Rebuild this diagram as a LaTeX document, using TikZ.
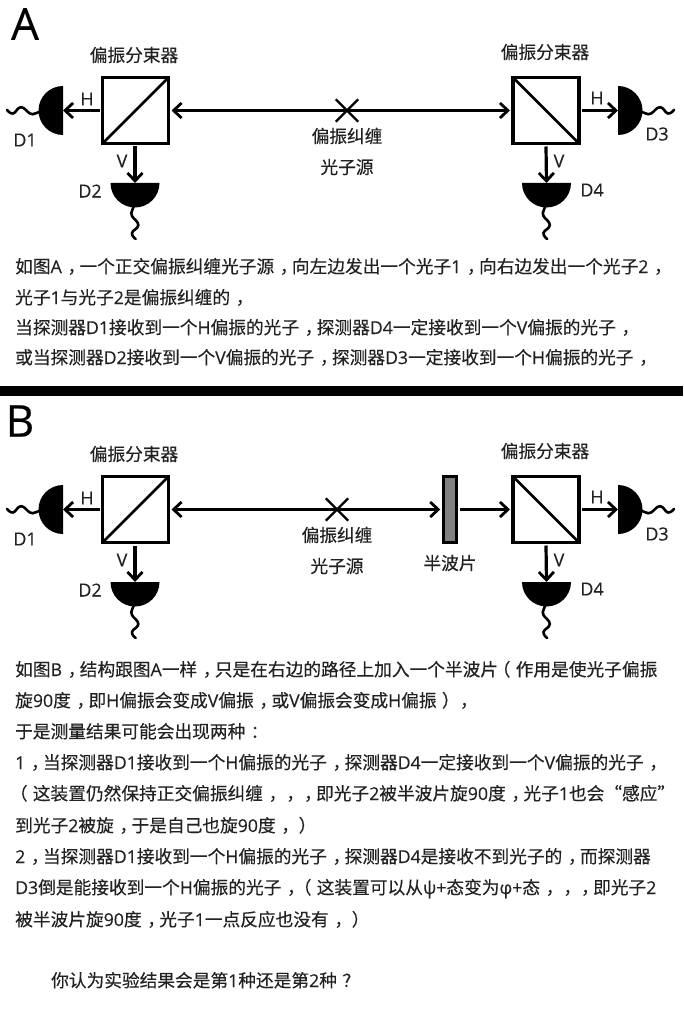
\documentclass[tikz,border=0pt]{standalone}
\usepackage{fontspec}
\usetikzlibrary{arrows.meta,shapes.misc}
\newfontfamily\cjk[RawFeature={embolden=0.35}]{Noto Sans CJK SC}
\newfontfamily\latf[RawFeature={embolden=0.35}]{Open Sans}
\newcommand\lat[1]{{\latf #1}}
\newcommand\cmm{\makebox[1em][l]{\hspace{.32em}，}}
\newcommand\lpr{\makebox[1em][l]{\hspace{-.3em}（}}
\newcommand\rpr{\makebox[1em][l]{\hspace{.3em}）}}
\newcommand\clnm{\makebox[1em][l]{\hspace{.3em}：}}
\newcommand\qnm{\makebox[1em][l]{\hspace{.3em}？}}
\definecolor{ink}{HTML}{222222}
\tikzset{
  x=1pt,y=-1pt,
  barb/.tip={Straight Barb[length=8pt,width=15pt,line width=2.8pt]},
  beam/.style={line width=3.2pt},
  tipend/.style={-barb},
  tipboth/.style={barb-barb},
  bsbox/.style={draw,line width=3.2pt,minimum size=66pt,inner sep=0pt,outer sep=3pt},
  bsup/.style={bsbox,path picture={\draw[line width=2.8pt] (path picture bounding box.south west) -- (path picture bounding box.north east);}},
  bsdown/.style={bsbox,path picture={\draw[line width=2.8pt] (path picture bounding box.north west) -- (path picture bounding box.south east);}},
  plate/.style={draw,fill=black!50,line width=2.8pt,minimum width=13.5pt,minimum height=66pt,inner sep=0pt,outer sep=3pt},
  source/.style={draw,cross out,line width=2.4pt,minimum size=20pt,inner sep=0pt},
  cn/.style={font=\cjk\fontsize{17.7}{20}\selectfont,text=ink,inner sep=0pt},
  la/.style={font=\latf\fontsize{18}{20}\selectfont,text=ink,inner sep=0pt},
  big/.style={font=\latf\fontsize{44}{46}\selectfont,text=black,inner sep=0pt},
  bodyline/.style={font=\cjk\fontsize{17.7}{20}\selectfont,text=ink,inner sep=0pt,anchor=base west},
  pics/det/.style={code={
    \fill (0,-24.5) .. controls (13.5,-24.5) and (24.5,-13.5) .. (24.5,0) .. controls (24.5,13.5) and (13.5,24.5) .. (0,24.5) -- cycle;
    \draw[line width=2.6pt,line cap=round] plot[smooth,tension=.8] coordinates {(23,1) (28,3) (33,3) (42,-3.3) (50,3) (56,-.7)};
  }},
}
\begin{document}
\begin{tikzpicture}
\useasboundingbox (0,0) rectangle (683,1024);
% ---------- A
\node[big] (labA) at (25,24) {A};
\node[bsup] (bsAL) at (135.5,110.5) {};
\node[bsdown] (bsAR) at (546,110.5) {};
\node[source] (srcA) at (347,110.5) {};
\coordinate (d1A) at (63,110.5);
\coordinate (d2A) at (135,183);
\coordinate (d3A) at (618,110.5);
\coordinate (d4A) at (546.5,183);
\pic[xscale=-1] at (d1A) {det};
\pic[rotate=-90] at (d2A) {det};
\pic at (d3A) {det};
\pic[rotate=-90] at (d4A) {det};
\draw[beam,tipboth] (bsAL.east) -- (bsAR.west);
\draw[beam,tipend] (bsAL.west) -- (d1A);
\draw[beam,tipend] (bsAL.south) ++(-.5,0) -- (d2A);
\draw[beam,tipend] (bsAR.east) -- (d3A);
\draw[beam,tipend] (bsAR.south) -- (d4A);
\node[cn] (bsALt) at (134,55) {偏振分束器};
\node[cn] (bsARt) at (545,52) {偏振分束器};
\node[cn] (srcAa) at (347,136) {偏振纠缠};
\node[cn] (srcAb) at (347,167) {光子源};
\node[la] (hAL) at (87,99) {H};
\node[la] (vAL) at (122,161) {V};
\node[la] (hAR) at (597,98) {H};
\node[la] (vAR) at (559,161) {V};
\node[la] (d1At) at (25,140) {D1};
\node[la] (d2At) at (90,191) {D2};
\node[la] (d3At) at (657,134) {D3};
\node[la] (d4At) at (592,190) {D4};
\node[bodyline] (a1) at (15,273) {如图\lat{A}\cmm 一个正交偏振纠缠光子源\cmm 向左边发出一个光子\lat{1}\cmm 向右边发出一个光子\lat{2}\cmm};
\node[bodyline] (a2) at (15,304) {光子\lat{1}与光子\lat{2}是偏振纠缠的\cmm};
\node[bodyline] (a3) at (15,334) {当探测器\lat{D1}接收到一个\lat{H}偏振的光子\cmm 探测器\lat{D4}一定接收到一个\lat{V}偏振的光子\cmm};
\node[bodyline] (a4) at (15,364) {或当探测器\lat{D2}接收到一个\lat{V}偏振的光子\cmm 探测器\lat{D3}一定接收到一个\lat{H}偏振的光子\cmm};
% ---------- separator
\fill[black] (0,386) rectangle (683,396);
% ---------- B
\node[big] (labB) at (20,421) {B};
\node[bsup] (bsBL) at (135.5,509.5) {};
\node[bsdown] (bsBR) at (546,509.5) {};
\node[plate] (hwp) at (450,509.5) {};
\node[source] (srcB) at (337,509.5) {};
\coordinate (d1B) at (63,509.5);
\coordinate (d2B) at (135,582);
\coordinate (d3B) at (618,509.5);
\coordinate (d4B) at (546.5,582);
\pic[xscale=-1] at (d1B) {det};
\pic[rotate=-90] at (d2B) {det};
\pic at (d3B) {det};
\pic[rotate=-90] at (d4B) {det};
\draw[beam,tipboth] (bsBL.east) -- (hwp.west);
\draw[beam,tipend] (hwp.east) -- (bsBR.west);
\draw[beam,tipend] (bsBL.west) -- (d1B);
\draw[beam,tipend] (bsBL.south) ++(-.5,0) -- (d2B);
\draw[beam,tipend] (bsBR.east) -- (d3B);
\draw[beam,tipend] (bsBR.south) -- (d4B);
\node[cn] (bsBLt) at (134,454) {偏振分束器};
\node[cn] (bsBRt) at (545,451) {偏振分束器};
\node[cn] (srcBa) at (337,535) {偏振纠缠};
\node[cn] (srcBb) at (337,566) {光子源};
\node[cn] (hwpt) at (450,563) {半波片};
\node[la] (hBL) at (87,498) {H};
\node[la] (vBL) at (122,560) {V};
\node[la] (hBR) at (597,497) {H};
\node[la] (vBR) at (559,560) {V};
\node[la] (d1Bt) at (25,539) {D1};
\node[la] (d2Bt) at (90,590) {D2};
\node[la] (d3Bt) at (657,534) {D3};
\node[la] (d4Bt) at (592,589) {D4};
\node[bodyline] (b1) at (15,676) {如图\lat{B}\cmm 结构跟图\lat{A}一样\cmm 只是在右边的路径上加入一个半波片\lpr 作用是使光子偏振};
\node[bodyline] (b2) at (15,707) {旋\lat{90}度\cmm 即\lat{H}偏振会变成\lat{V}偏振\cmm 或\lat{V}偏振会变成\lat{H}偏振\rpr\cmm};
\node[bodyline] (b3) at (15,738) {于是测量结果可能会出现两种\clnm};
\node[bodyline] (b4) at (15,769) {\lat{1}\cmm 当探测器\lat{D1}接收到一个\lat{H}偏振的光子\cmm 探测器\lat{D4}一定接收到一个\lat{V}偏振的光子\cmm};
\node[bodyline] (b5) at (15,800) {\lpr 这装置仍然保持正交偏振纠缠\cmm\cmm\cmm 即光子\lat{2}被半波片旋\lat{90}度\cmm 光子\lat{1}也会“感应”};
\node[bodyline] (b6) at (15,832) {到光子\lat{2}被旋\cmm 于是自己也旋\lat{90}度\cmm\rpr};
\node[bodyline] (b7) at (15,863) {\lat{2}\cmm 当探测器\lat{D1}接收到一个\lat{H}偏振的光子\cmm 探测器\lat{D4}是接收不到光子的\cmm 而探测器};
\node[bodyline] (b8) at (15,894) {\lat{D3}倒是能接收到一个\lat{H}偏振的光子\cmm\lpr 这装置可以从\lat{ψ+}态变为\lat{φ+}态\cmm\cmm\cmm 即光子\lat{2}};
\node[bodyline] (b9) at (15,926) {被半波片旋\lat{90}度\cmm 光子\lat{1}一点反应也没有\cmm\rpr};
\node[bodyline] (b10) at (51,987) {你认为实验结果会是第\lat{1}种还是第\lat{2}种\qnm};
\end{tikzpicture}
\end{document}
